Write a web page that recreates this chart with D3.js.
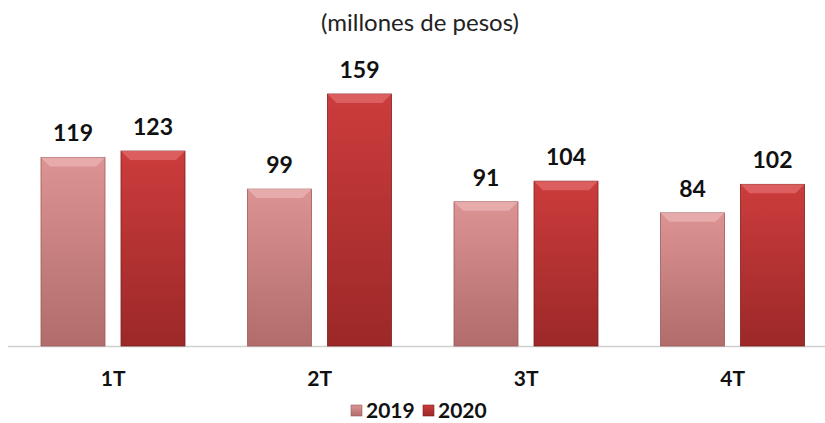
<!DOCTYPE html>
<html>
<head>
<meta charset="utf-8">
<script src="https://cdn.jsdelivr.net/npm/d3@7"></script>
<style>
  body { margin: 0; background: #fff; }
  svg { display: block; }
</style>
</head>
<body>
<div id="chart"></div>
<script>
// Chart data
const quarters = ["1T", "2T", "3T", "4T"];
const years = ["2019", "2020"];
const values2019 = [119, 99, 91, 84];
const values2020 = [123, 159, 104, 102];
const titleText = "(millones de pesos)";

const width = 825;
const height = 423;
const baseY = 346;
const topY = 94; // where 159 reaches

const font = "Lato, 'Open Sans', sans-serif";

const svg = d3.select("#chart")
  .append("svg")
  .attr("width", width)
  .attr("height", height);

const defs = svg.append("defs");
const palette = {
  "2019": { top: "#dc9393", bottom: "#b26c6c", bevel: "#eab2b2", edge: "#9c5a5a" },
  "2020": { top: "#cc3c3c", bottom: "#9c2828", bevel: "#e06868", edge: "#7e1e1e" }
};
years.forEach(yr => {
  const g = defs.append("linearGradient")
    .attr("id", "grad" + yr)
    .attr("x1", 0).attr("y1", 0).attr("x2", 0).attr("y2", 1);
  g.append("stop").attr("offset", "0%").attr("stop-color", palette[yr].top);
  g.append("stop").attr("offset", "100%").attr("stop-color", palette[yr].bottom);
});

// Scales
const x = d3.scaleBand()
  .domain(quarters)
  .range([10, 836])
  .paddingInner(0)
  .paddingOuter(0);

const x1 = d3.scaleBand()
  .domain(years)
  .range([31, 175])
  .paddingInner(0.2);

const y = d3.scaleLinear()
  .domain([0, 159])
  .range([baseY, topY]);

const rows = quarters.map((q, i) => ({
  q,
  items: [
    { yr: "2019", v: values2019[i] },
    { yr: "2020", v: values2020[i] }
  ]
}));

// Title
svg.append("text")
  .attr("x", 420)
  .attr("y", 31)
  .attr("text-anchor", "middle")
  .style("font-family", font)
  .style("font-size", "24px")
  .attr("fill", "#222")
  .text(titleText);

// Baseline
svg.append("line")
  .attr("x1", 8)
  .attr("x2", width)
  .attr("y1", baseY + 0.5)
  .attr("y2", baseY + 0.5)
  .attr("stroke", "#d0d0d0")
  .attr("stroke-width", 1.5);

// Bars
const groups = svg.selectAll("g.quarter")
  .data(rows)
  .join("g")
  .attr("class", "quarter")
  .attr("transform", d => `translate(${x(d.q)},0)`);

const bars = groups.selectAll("g.bar")
  .data(d => d.items)
  .join("g")
  .attr("class", "bar");

bars.append("rect")
  .attr("x", d => x1(d.yr))
  .attr("y", d => y(d.v))
  .attr("width", x1.bandwidth())
  .attr("height", d => y(0) - y(d.v))
  .attr("fill", d => `url(#grad${d.yr})`)
  .attr("stroke", d => palette[d.yr].edge)
  .attr("stroke-width", 0.8);

// top bevel
const bevel = 9;
bars.append("path")
  .attr("d", d => {
    const x0 = x1(d.yr), w = x1.bandwidth(), t = y(d.v);
    return `M${x0},${t}L${x0 + w},${t}L${x0 + w - bevel},${t + bevel}L${x0 + bevel},${t + bevel}Z`;
  })
  .attr("fill", d => palette[d.yr].bevel)
  .attr("opacity", 0.8);

// Value labels
bars.append("text")
  .attr("x", d => x1(d.yr) + x1.bandwidth() / 2)
  .attr("y", d => y(d.v) - 16)
  .attr("text-anchor", "middle")
  .style("font-family", font)
  .style("font-size", "23px")
  .style("font-weight", "bold")
  .attr("fill", "#111")
  .text(d => d.v);

// X axis labels
svg.selectAll("text.cat")
  .data(quarters)
  .join("text")
  .attr("class", "cat")
  .attr("x", d => x(d) + x.bandwidth() / 2)
  .attr("y", 386)
  .attr("text-anchor", "middle")
  .style("font-family", font)
  .style("font-size", "21px")
  .style("font-weight", "bold")
  .attr("fill", "#111")
  .text(d => d);

// Legend
const legend = svg.append("g").attr("transform", "translate(351,405)");
const legendX = [0, 72];
years.forEach((yr, i) => {
  const lg = legend.append("g").attr("transform", `translate(${legendX[i]},0)`);
  lg.append("rect")
    .attr("width", 11)
    .attr("height", 11)
    .attr("fill", `url(#grad${yr})`)
    .attr("stroke", palette[yr].edge)
    .attr("stroke-width", 0.6);
  lg.append("text")
    .attr("x", 15)
    .attr("y", 13)
    .style("font-family", font)
    .style("font-size", "21px")
    .style("font-weight", "bold")
    .attr("fill", "#111")
    .text(yr);
});
</script>
</body>
</html>
